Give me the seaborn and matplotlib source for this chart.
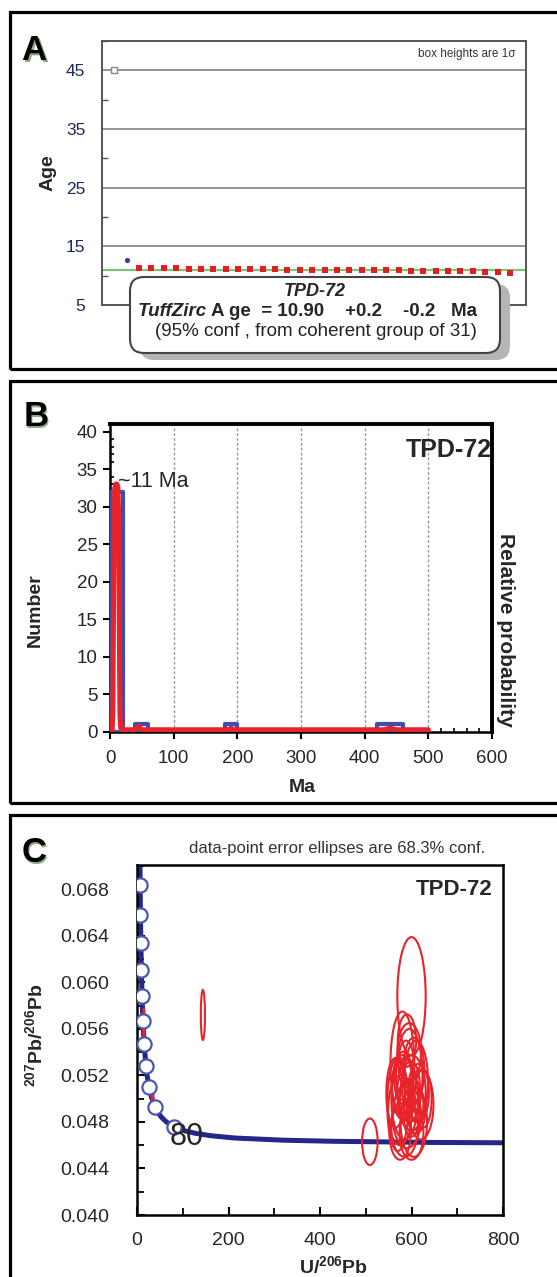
import numpy as np
import pandas as pd
import matplotlib
matplotlib.use("Agg")
import matplotlib.pyplot as plt
import seaborn as sns
from matplotlib.patches import Rectangle, FancyBboxPatch, Ellipse
from matplotlib.transforms import IdentityTransform
from matplotlib.ticker import MultipleLocator, FormatStrFormatter

# ---------------- data ----------------
# Panel A : single-grain ages (Ma), ranked
a_outlier_age = [45.0]
a_old_age = [12.7]
a_group_age = [11.35, 11.30, 11.28, 11.25, 11.22, 11.20, 11.18, 11.15, 11.12, 11.10,
               11.08, 11.06, 11.05, 11.03, 11.00, 11.00, 10.98, 10.96, 10.95, 10.93,
               10.92, 10.90, 10.88, 10.86, 10.85, 10.83, 10.80, 10.75, 10.70, 10.55, 10.45]
a_tuffzirc_age = 10.90
a_yticks = [5, 15, 25, 35, 45]

# Panel B : histogram (bin centre, count) and probability curve
b_bin_centre = [10, 50, 190, 430, 450]
b_bin_count = [32, 1, 1, 1, 1]
b_pdp_ma = [0, 3.5, 4.5, 5.5, 6.5, 7.5, 9, 11, 12.5, 13.5, 14.5, 15.5, 16, 17, 18,
            40, 45, 50, 185, 190, 195, 430, 440, 450, 500]
b_pdp_val = [0.3, 0.3, 3, 16, 29, 32.5, 33, 33, 32.5, 29, 16, 3, 1.6, 0.5, 0.3,
             0.3, 0.8, 0.3, 0.3, 0.5, 0.3, 0.3, 0.5, 0.3, 0.3]

# Panel C : Tera-Wasserburg concordia and age marks
c_conc_x = [6.24, 6.84, 7.57, 8.46, 9.58, 11.02, 12.94, 15.62, 19.65, 22.53, 26.36,
            31.7, 39.8, 45.5, 53.2, 64.0, 80.1, 91.6, 106.9, 128.4, 161, 214, 322,
            429, 644, 805]
c_conc_y = [0.0711, 0.06838, 0.06580, 0.06335, 0.06103, 0.05880, 0.05670, 0.05470,
            0.05279, 0.05188, 0.05098, 0.05011, 0.04925, 0.04884, 0.04842, 0.04801,
            0.04761, 0.04741, 0.04721, 0.04702, 0.04682, 0.04662, 0.04643, 0.04634,
            0.04624, 0.04621]
c_mark_x = [6.84, 7.57, 8.46, 9.58, 11.02, 12.94, 15.62, 19.65, 26.36, 39.8, 80.1]
c_mark_y = [0.06838, 0.06580, 0.06335, 0.06103, 0.05880, 0.05670, 0.05470, 0.05279,
            0.05098, 0.04925, 0.04761]
c_mark_label = "80"
# error ellipses: centre x, centre y, full width, full height
c_ell_x = [600, 509, 144, 15, 34,
           580, 595, 610, 600, 585, 620, 575, 590, 605, 570, 600, 615, 585, 600,
           580, 595, 590, 605, 575, 610, 590, 598, 582, 625, 565, 600, 588]
c_ell_y = [0.0588, 0.0463, 0.0572, 0.0565, 0.0502,
           0.0530, 0.0520, 0.0515, 0.0505, 0.0500, 0.0495, 0.0490, 0.0485, 0.0480,
           0.0495, 0.0495, 0.0505, 0.0475, 0.0470, 0.0510, 0.0540, 0.0550, 0.0525,
           0.0470, 0.0490, 0.0500, 0.0512, 0.0518, 0.0500, 0.0505, 0.0485, 0.0530]
c_ell_w = [62, 34, 9, 4, 4,
           52, 58, 52, 62, 58, 56, 52, 62, 58, 46, 52, 46, 58, 52, 46, 52, 40, 46,
           46, 40, 34, 40, 40, 38, 40, 34, 34]
c_ell_h = [0.0102, 0.0040, 0.0043, 0.0025, 0.0020,
           0.0090, 0.0080, 0.0070, 0.0065, 0.0070, 0.0060, 0.0060, 0.0055, 0.0060,
           0.0080, 0.0045, 0.0050, 0.0050, 0.0045, 0.0055, 0.0050, 0.0045, 0.0055,
           0.0045, 0.0040, 0.0035, 0.0040, 0.0045, 0.0050, 0.0060, 0.0035, 0.0040]

# ---------------- style ----------------
sns.set_style("white")
plt.rcParams['font.family'] = ['Liberation Sans', 'DejaVu Sans']
plt.rcParams['mathtext.fontset'] = 'custom'
plt.rcParams['mathtext.rm'] = 'Liberation Sans'
plt.rcParams['mathtext.bf'] = 'Liberation Sans:bold'
plt.rcParams['mathtext.it'] = 'Liberation Sans:italic'

W, H = 557, 1277
fig = plt.figure(figsize=(W / 100, H / 100), dpi=100)
fig.patch.set_facecolor('white')


def add_ax(l, t, r, b):
    return fig.add_axes([l / W, 1 - b / H, (r - l) / W, (b - t) / H])


def ftext(x, y, s, **kw):
    return fig.text(x / W, 1 - y / H, s, **kw)


def panel_letter(x, y, s):
    ftext(x + 1.5, y + 2, s, fontsize=25, fontweight='bold', color='#8fa882',
          ha='center', va='center')
    ftext(x, y, s, fontsize=25, fontweight='bold', color='black',
          ha='center', va='center')


# outer frames
for top, bot in [(12, 369), (381, 803), (815, H + 20)]:
    fig.add_artist(Rectangle((10, H - bot), 700, bot - top, transform=IdentityTransform(),
                             fill=False, lw=2.3, ec='black'))

# ================= Panel A =================
axA = add_ax(102, 41, 526, 305)
red = '#e02020'
idx_out = [1]
idx_old = [2]
idx_grp = list(range(3, 3 + len(a_group_age)))
axA.axhline(a_tuffzirc_age, color='#7cc47c', lw=1.6, zorder=2)
for yv in [15, 25, 35, 45]:
    axA.axhline(yv, color='#8c8c8c', lw=1.3, zorder=1)
sns.scatterplot(x=idx_out, y=a_outlier_age, ax=axA, marker='s', s=22, color='white',
                edgecolor='#8a8a8a', linewidth=1.0, zorder=3)
sns.scatterplot(x=idx_old, y=a_old_age, ax=axA, marker='o', s=14, color='#3040a0',
                edgecolor='#3040a0', linewidth=0, zorder=3)
sns.scatterplot(x=idx_grp, y=a_group_age, ax=axA, marker='s', s=13, color=red,
                edgecolor=red, linewidth=0, zorder=3)
axA.set_xlim(0, 34.3)
axA.set_ylim(5, 50)
axA.set_yticks(a_yticks)
axA.yaxis.set_minor_locator(MultipleLocator(10))
axA.set_xticks([])
axA.tick_params(axis='y', which='major', length=0, labelsize=12.5, labelcolor='#1c2a55', pad=12)
axA.tick_params(axis='y', which='minor', direction='in', length=4, width=1, color='#555', left=True)
for sp in axA.spines.values():
    sp.set_color('#555555')
    sp.set_linewidth(1.4)
axA.set_xlabel('')
axA.set_ylabel('')
ftext(48, 173, 'Age', rotation=90, fontsize=14, fontweight='bold', ha='center', va='center')
ftext(515, 54, 'box heights are 1σ', fontsize=8.5, color='#333333', ha='right', va='center')
panel_letter(34, 51, 'A')

# result box
fig.add_artist(FancyBboxPatch((140, H - 360), 370, 76, boxstyle='round,pad=0,rounding_size=14',
                              transform=IdentityTransform(), fc='#b5b5b5', ec='none', zorder=5))
fig.add_artist(FancyBboxPatch((130, H - 353), 370, 76, boxstyle='round,pad=0,rounding_size=14',
                              transform=IdentityTransform(), fc='white', ec='#444444', lw=1.5, zorder=6))
ftext(315, 292, 'TPD-72', fontsize=13, fontstyle='italic', fontweight='bold',
      ha='center', va='center', zorder=7)
ftext(207, 312, 'TuffZirc', fontsize=13.5, fontstyle='italic', fontweight='bold',
      ha='right', va='center', zorder=7)
ftext(211, 312, 'A ge  = 10.90    +0.2    -0.2   Ma', fontsize=13.5, fontweight='bold',
      ha='left', va='center', zorder=7)
ftext(316, 332, '(95% conf , from coherent group of 31)', fontsize=13.5, color='#222222',
      ha='center', va='center', zorder=7)

# ================= Panel B =================
axB = add_ax(110, 424, 492, 732)
blue_bar = '#3d4fab'
sns.histplot(x=b_bin_centre, weights=b_bin_count, binwidth=20, binrange=(0, 600),
             fill=False, element='bars', color=blue_bar, edgecolor=blue_bar, linewidth=3.0,
             ax=axB, zorder=3)
for p in list(axB.patches):
    if p.get_height() == 0:
        p.remove()
    else:
        p.set_edgecolor(blue_bar)
        p.set_joinstyle('round')
sns.lineplot(x=b_pdp_ma, y=b_pdp_val, ax=axB, color='#e8232a', lw=3.6, sort=False,
             estimator=None, zorder=4)
axB.set_xlim(0, 600)
axB.set_ylim(0, 41)
axB.set_xticks([0, 100, 200, 300, 400, 500, 600])
axB.set_yticks(range(0, 41, 5))
axB.xaxis.set_minor_locator(MultipleLocator(20))
axB.yaxis.set_minor_locator(MultipleLocator(1))
for xv in [100, 200, 300, 400, 500]:
    axB.axvline(xv, color='#9a9a9a', lw=1.0, ls=(0, (2, 1.5)), zorder=1)
axB.tick_params(axis='both', which='major', direction='out', length=5, width=1.5,
                labelsize=13.5, color='black', bottom=True, left=True, pad=4)
axB.tick_params(axis='x', which='major', pad=8)
axB.tick_params(axis='both', which='minor', direction='in', length=3, width=1.2,
                color='black', bottom=True, left=True)
for name, sp in axB.spines.items():
    sp.set_color('black')
    sp.set_linewidth(2.8 if name in ('top', 'right') else 1.8)
axB.set_xlabel('')
axB.set_ylabel('')
axB.text(1.0, 0.915, 'TPD-72', transform=axB.transAxes, fontsize=18, fontweight='bold',
         ha='right', va='center', zorder=1, clip_on=False)
axB.text(12, 32.0, '~11 Ma', fontsize=15.5, ha='left', va='bottom', zorder=5)
ftext(35, 610, 'Number', rotation=90, fontsize=14, fontweight='bold', ha='center', va='center')
ftext(302, 788, 'Ma', fontsize=14, fontweight='bold', ha='center', va='center')
ftext(505, 630, 'Relative probability', rotation=270, fontsize=15, fontweight='bold',
      ha='center', va='center')
panel_letter(36, 417, 'B')

# ================= Panel C =================
axC = add_ax(137, 865, 503, 1215)
for ex, ey, ew, eh in zip(c_ell_x, c_ell_y, c_ell_w, c_ell_h):
    axC.add_patch(Ellipse((ex, ey), ew, eh, fill=False, ec='#e8232a', lw=1.5, zorder=3))
sns.lineplot(x=c_conc_x, y=c_conc_y, ax=axC, color='#25258a', lw=3.6, sort=False,
             estimator=None, zorder=2)
sns.scatterplot(x=c_mark_x, y=c_mark_y, ax=axC, marker='o', s=105, color='white',
                edgecolor='#4a58b0', linewidth=1.6, zorder=4)
axC.text(108, 0.0467, c_mark_label, fontsize=22, ha='center', va='center', zorder=5)
axC.set_xlim(0, 800)
axC.set_ylim(0.040, 0.0701)
axC.set_xticks([0, 200, 400, 600, 800])
axC.set_yticks(np.round(np.arange(0.040, 0.0681, 0.004), 3))
axC.yaxis.set_major_formatter(FormatStrFormatter('%.3f'))
axC.xaxis.set_minor_locator(MultipleLocator(100))
axC.yaxis.set_minor_locator(MultipleLocator(0.002))
axC.tick_params(axis='both', which='major', direction='in', length=6, width=1.5,
                labelsize=14, color='black', bottom=True, left=True)
axC.tick_params(axis='y', which='major', pad=20)
axC.tick_params(axis='x', which='major', pad=12)
axC.tick_params(axis='both', which='minor', direction='in', length=5, width=1.3,
                color='black', bottom=True, left=True)
for sp in axC.spines.values():
    sp.set_color('black')
    sp.set_linewidth(1.8)
axC.set_xlabel('')
axC.set_ylabel('')
axC.text(0.97, 0.93, 'TPD-72', transform=axC.transAxes, fontsize=16, fontweight='bold',
         ha='right', va='center', zorder=5)
ftext(337, 848, 'data-point error ellipses are 68.3% conf.', fontsize=12,
      color='#333333', ha='center', va='center')
ftext(35, 1035, r'$\mathbf{{}^{207}Pb/{}^{206}Pb}$', rotation=90, fontsize=14,
      ha='center', va='center')
ftext(334, 1266, r'$\mathbf{U/{}^{206}Pb}$', fontsize=14, ha='center', va='center')
panel_letter(34, 853, 'C')

fig.savefig('out.png', dpi=100, facecolor='white')
